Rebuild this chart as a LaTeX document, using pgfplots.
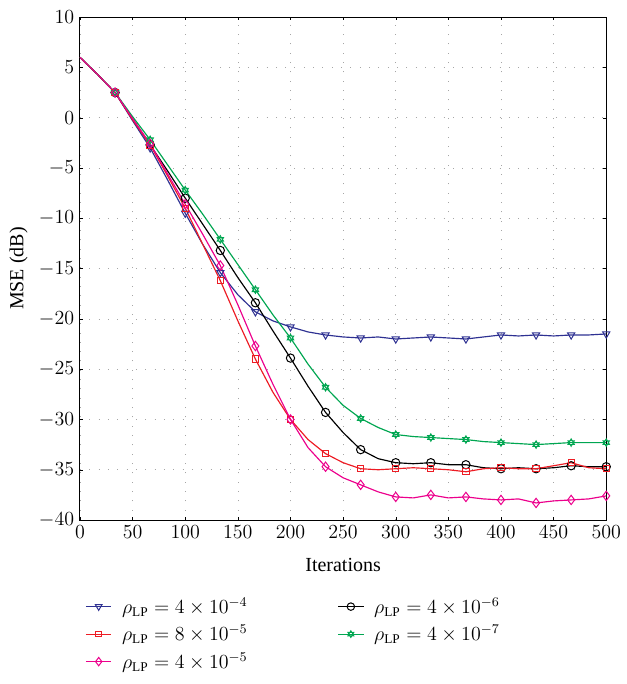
\documentclass[border=0pt]{standalone}
\usepackage{pgfplots}
\pgfplotsset{compat=1.18}
\usepackage{fontspec}
\setmainfont{Liberation Serif}
\definecolor{cblue}{HTML}{2E3192}
\definecolor{cred}{HTML}{ED1C24}
\definecolor{cmag}{HTML}{EC008C}
\definecolor{cgreen}{HTML}{00A651}

\pgfdeclareplotmark{hexagram}{%
  \pgfpathmoveto{\pgfqpointpolar{90}{\pgfplotmarksize}}%
  \pgfpathlineto{\pgfqpointpolar{210}{\pgfplotmarksize}}%
  \pgfpathlineto{\pgfqpointpolar{330}{\pgfplotmarksize}}%
  \pgfpathclose
  \pgfpathmoveto{\pgfqpointpolar{270}{\pgfplotmarksize}}%
  \pgfpathlineto{\pgfqpointpolar{30}{\pgfplotmarksize}}%
  \pgfpathlineto{\pgfqpointpolar{150}{\pgfplotmarksize}}%
  \pgfpathclose
  \pgfusepathqstroke}

\begin{document}
\begin{tikzpicture}
\begin{axis}[
  scale only axis,
  width=316pt, height=302pt,
  xmin=0, xmax=500, ymin=-40, ymax=10,
  xtick={0,50,...,500}, ytick={-40,-35,...,10},
  grid=major,
  grid style={gray!70, dash pattern=on 0.6pt off 5pt},
  major tick length=2pt,
  tick style={black},
  axis line style={black, line width=0.6pt},
  xlabel={Iterations}, ylabel={MSE (dB)},
  xlabel style={yshift=-5pt},
  label style={font=\large},
  tick label style={font=\large},
  clip=false,
  legend style={draw=none, fill=none, at={(0.0,-0.14)}, anchor=north west,
    font=\large, row sep=1.5pt, column sep=4pt,
    /tikz/every even column/.append style={column sep=52pt}},
  legend image post style={scale=0.9},
  legend columns=2,
  legend cell align={left},
  every axis plot/.append style={line width=0.7pt, mark size=2.5pt,
    mark repeat=2, mark phase=3},
]
\addplot[cblue, mark=triangle, mark options={solid, fill=none, rotate=180, line width=0.6pt}] coordinates {
(0,6) (16.67,4.3) (33.33,2.5) (50,-0.3) (66.67,-3.0) (83.33,-6.2) (100,-9.5)
(116.67,-12.6) (133.33,-15.4) (150,-17.6) (166.67,-19.3) (183.33,-20.2) (200,-20.8)
(216.67,-21.3) (233.33,-21.6) (250,-21.8) (266.67,-21.9) (283.33,-21.8) (300,-22.0)
(316.67,-21.9) (333.33,-21.8) (350,-21.9) (366.67,-22.0) (383.33,-21.8) (400,-21.6)
(416.67,-21.7) (433.33,-21.6) (450,-21.7) (466.67,-21.6) (483.33,-21.6) (500,-21.5)};
\addlegendentry{$\rho_{\mathrm{LP}} = 4\times 10^{-4}$}
\addplot[black, mark=o, mark options={solid, fill=none, line width=0.6pt}] coordinates {
(0,6) (16.67,4.3) (33.33,2.5) (50,-0.1) (66.67,-2.7) (83.33,-5.3) (100,-8.0)
(116.67,-10.6) (133.33,-13.2) (150,-15.9) (166.67,-18.4) (183.33,-21.2) (200,-23.9)
(216.67,-26.7) (233.33,-29.3) (250,-31.3) (266.67,-33.0) (283.33,-33.9) (300,-34.3)
(316.67,-34.4) (333.33,-34.3) (350,-34.5) (366.67,-34.5) (383.33,-34.8) (400,-34.9)
(416.67,-34.8) (433.33,-34.9) (450,-34.8) (466.67,-34.6) (483.33,-34.7) (500,-34.7)};
\addlegendentry{$\rho_{\mathrm{LP}} = 4\times 10^{-6}$}
\addplot[cred, mark=square, mark size=1.9pt, mark options={solid, fill=none, line width=0.6pt}] coordinates {
(0,6) (16.67,4.3) (33.33,2.5) (50,-0.2) (66.67,-2.7) (83.33,-5.8) (100,-9.0)
(116.67,-12.6) (133.33,-16.2) (150,-20.2) (166.67,-24.0) (183.33,-27.3) (200,-30.0)
(216.67,-32.0) (233.33,-33.4) (250,-34.3) (266.67,-34.9) (283.33,-35.0) (300,-34.9)
(316.67,-34.8) (333.33,-34.9) (350,-35.0) (366.67,-35.2) (383.33,-34.9) (400,-34.8)
(416.67,-34.9) (433.33,-34.9) (450,-34.6) (466.67,-34.3) (483.33,-34.8) (500,-34.9)};
\addlegendentry{$\rho_{\mathrm{LP}} = 8\times 10^{-5}$}
\addplot[cgreen, mark=hexagram, mark size=2.3pt, mark options={solid, fill=none, line width=0.5pt}] coordinates {
(0,6) (16.67,4.3) (33.33,2.5) (50,0.1) (66.67,-2.2) (83.33,-4.7) (100,-7.2)
(116.67,-9.6) (133.33,-12.1) (150,-14.6) (166.67,-17.1) (183.33,-19.6) (200,-21.9)
(216.67,-24.5) (233.33,-26.8) (250,-28.6) (266.67,-29.9) (283.33,-30.8) (300,-31.5)
(316.67,-31.7) (333.33,-31.8) (350,-31.9) (366.67,-32.0) (383.33,-32.2) (400,-32.3)
(416.67,-32.4) (433.33,-32.5) (450,-32.4) (466.67,-32.3) (483.33,-32.3) (500,-32.3)};
\addlegendentry{$\rho_{\mathrm{LP}} = 4\times 10^{-7}$}
\addplot[cmag, mark=diamond, mark size=2.8pt, mark options={solid, fill=none, line width=0.6pt}] coordinates {
(0,6) (16.67,4.3) (33.33,2.5) (50,-0.1) (66.67,-2.6) (83.33,-5.6) (100,-8.6)
(116.67,-11.6) (133.33,-14.7) (150,-18.6) (166.67,-22.7) (183.33,-26.5) (200,-30.0)
(216.67,-32.8) (233.33,-34.7) (250,-35.8) (266.67,-36.5) (283.33,-37.2) (300,-37.7)
(316.67,-37.8) (333.33,-37.5) (350,-37.8) (366.67,-37.7) (383.33,-37.9) (400,-38.0)
(416.67,-37.9) (433.33,-38.3) (450,-38.1) (466.67,-38.0) (483.33,-37.9) (500,-37.6)};
\addlegendentry{$\rho_{\mathrm{LP}} = 4\times 10^{-5}$}
\path (rel axis cs:-0.152,-0.326) rectangle (rel axis cs:1.025,1.034);
\end{axis}
\end{tikzpicture}
\end{document}
